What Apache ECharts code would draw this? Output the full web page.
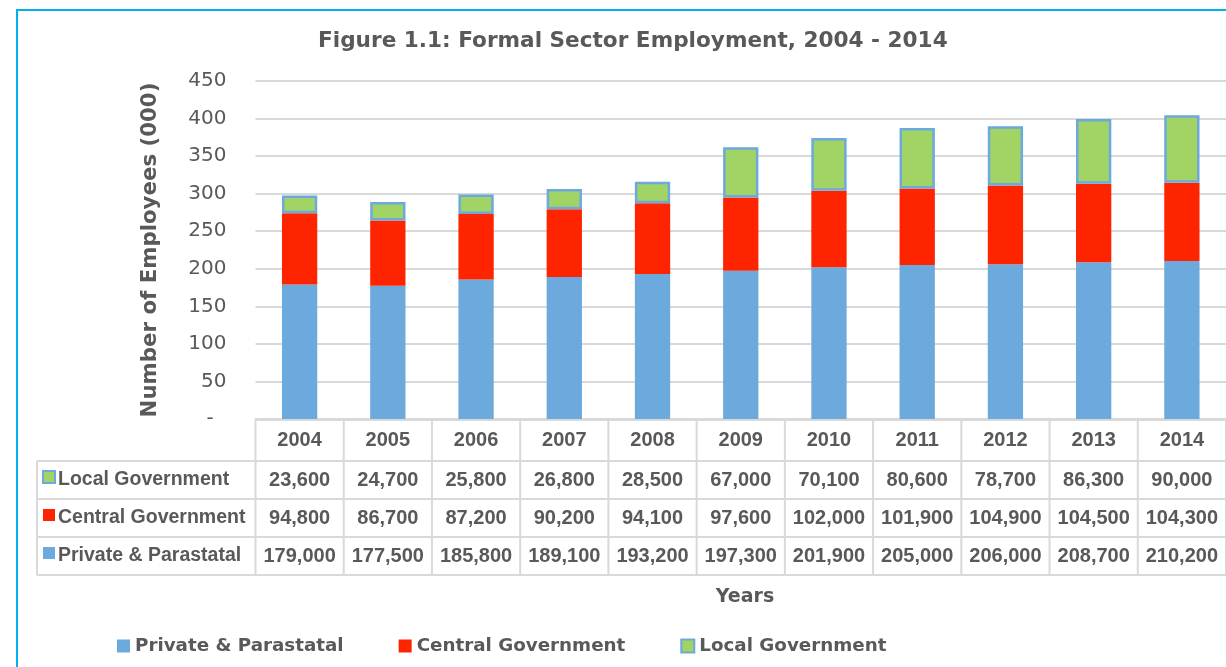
<!DOCTYPE html>
<html>
<head>
<meta charset="utf-8">
<script src="https://cdn.jsdelivr.net/npm/echarts@6/dist/echarts.min.js"></script>
<style>
  html, body { margin: 0; padding: 0; background: #fff; }
  #main { width: 1226px; height: 667px; }
</style>
</head>
<body>
<div id="main"></div>
<script>
// data (number of employees)
const years = ["2004", "2005", "2006", "2007", "2008", "2009", "2010", "2011", "2012", "2013", "2014"];
const privateParastatal = [179000, 177500, 185800, 189100, 193200, 197300, 201900, 205000, 206000, 208700, 210200];
const centralGovernment = [94800, 86700, 87200, 90200, 94100, 97600, 102000, 101900, 104900, 104500, 104300];
const localGovernment = [23600, 24700, 25800, 26800, 28500, 67000, 70100, 80600, 78700, 86300, 90000];

const seriesNames = ["Private & Parastatal", "Central Government", "Local Government"];
const colors = ["#6CA9DC", "#FF2400", "#A1D465"];
const greenBorder = "#6CA9DC";
const textColor = "#595959";
const lineColor = "#D9D9D9";

const toThousands = arr => arr.map(v => v / 1000);

const chart = echarts.init(document.getElementById("main"));

const option = {
  animation: false,
  color: colors,
  title: {
    text: "Figure 1.1: Formal Sector Employment, 2004 - 2014",
    left: 313,
    top: 25,
    textStyle: {
      fontFamily: "DejaVu Sans",
      fontWeight: "bold",
      fontSize: 21.6,
      color: textColor
    }
  },
  legend: {
    left: 117,
    top: 637,
    padding: 0,
    itemWidth: 13,
    itemHeight: 13,
    itemGap: 55,
    icon: "rect",
    data: seriesNames,
    textStyle: {
      fontFamily: "DejaVu Sans",
      fontWeight: "bold",
      fontSize: 18.3,
      color: textColor
    }
  },
  grid: {
    left: 255.5,
    right: -9,
    top: 81,
    bottom: 248
  },
  xAxis: {
    type: "category",
    data: years,
    axisLine: { lineStyle: { color: lineColor, width: 2 } },
    axisTick: { show: false },
    axisLabel: { show: false }
  },
  yAxis: {
    type: "value",
    min: 0,
    max: 450,
    interval: 50,
    name: "Number of Employees (000)",
    nameLocation: "middle",
    nameGap: 95,
    nameTextStyle: {
      fontFamily: "DejaVu Sans",
      fontWeight: "bold",
      fontSize: 21.3,
      color: textColor
    },
    axisLine: { show: false },
    axisTick: { show: false },
    axisLabel: {
      margin: 29,
      fontFamily: "DejaVu Sans",
      fontSize: 20,
      color: textColor,
      formatter: v => (v === 0 ? "-  " : v)
    },
    splitLine: { lineStyle: { color: lineColor, width: 2 } }
  },
  series: [
    {
      name: seriesNames[0],
      type: "bar",
      stack: "total",
      barWidth: "40%",
      data: toThousands(privateParastatal)
    },
    {
      name: seriesNames[1],
      type: "bar",
      stack: "total",
      data: toThousands(centralGovernment)
    },
    {
      name: seriesNames[2],
      type: "bar",
      stack: "total",
      itemStyle: { borderColor: greenBorder, borderWidth: 2.5 },
      data: toThousands(localGovernment)
    }
  ]
};

chart.setOption(option);

// data table under the plot, placed from the category axis
function drawTable() {
  const els = [];
  const x0 = chart.convertToPixel({ xAxisIndex: 0 }, 0);
  const x1 = chart.convertToPixel({ xAxisIndex: 0 }, 1);
  const band = x1 - x0;
  const tableLeft = x0 - band / 2;
  const tableRight = tableLeft + band * years.length;
  const top = chart.convertToPixel({ yAxisIndex: 0 }, 0) + 1;
  const headerH = 41;
  const rowH = 38;
  const labelLeft = 37;

  const rows = [
    { name: seriesNames[2], values: localGovernment, color: colors[2], border: greenBorder },
    { name: seriesNames[1], values: centralGovernment, color: colors[1] },
    { name: seriesNames[0], values: privateParastatal, color: colors[0] }
  ];
  const bottom = top + headerH + rowH * rows.length;
  const lineStyle = { stroke: lineColor, lineWidth: 2 };

  // horizontal lines
  els.push({ type: "line", shape: { x1: tableLeft, y1: top, x2: tableRight, y2: top }, style: lineStyle });
  for (let r = 0; r <= rows.length; r++) {
    const y = top + headerH + rowH * r;
    els.push({ type: "line", shape: { x1: labelLeft, y1: y, x2: tableRight, y2: y }, style: lineStyle });
  }
  // vertical lines
  els.push({ type: "line", shape: { x1: labelLeft, y1: top + headerH, x2: labelLeft, y2: bottom }, style: lineStyle });
  for (let c = 0; c <= years.length; c++) {
    const x = tableLeft + band * c;
    els.push({ type: "line", shape: { x1: x, y1: top, x2: x, y2: bottom }, style: lineStyle });
  }

  const cellFont = "bold 20px 'Liberation Sans'";
  years.forEach((yr, i) => {
    const cx = chart.convertToPixel({ xAxisIndex: 0 }, i);
    els.push({
      type: "text",
      style: { text: yr, x: cx, y: top + headerH / 2, align: "center", verticalAlign: "middle", font: cellFont, fill: textColor }
    });
    rows.forEach((row, r) => {
      els.push({
        type: "text",
        style: {
          text: row.values[i].toLocaleString("en-US"),
          x: cx,
          y: top + headerH + rowH * r + rowH / 2,
          align: "center",
          verticalAlign: "middle",
          font: cellFont,
          fill: textColor
        }
      });
    });
  });

  rows.forEach((row, r) => {
    const cy = top + headerH + rowH * r + rowH / 2;
    els.push({
      type: "rect",
      shape: { x: 43, y: cy - 9, width: 12, height: 12 },
      style: { fill: row.color, stroke: row.border || null, lineWidth: row.border ? 2 : 0 }
    });
    els.push({
      type: "text",
      style: { text: row.name, x: 58, y: cy, align: "left", verticalAlign: "middle", font: "bold 19.5px 'Liberation Sans'", fill: textColor }
    });
  });

  // x axis title
  els.push({
    type: "text",
    style: { text: "Years", x: 745, y: 597, align: "center", verticalAlign: "middle", font: "bold 19px 'DejaVu Sans'", fill: textColor }
  });

  // outer frame
  els.push({
    type: "rect",
    shape: { x: 17, y: 10, width: 1300, height: 700 },
    style: { fill: "none", stroke: "#00B0F0", lineWidth: 2 }
  });

  chart.setOption({ graphic: { elements: els } });
}

drawTable();
</script>
</body>
</html>
